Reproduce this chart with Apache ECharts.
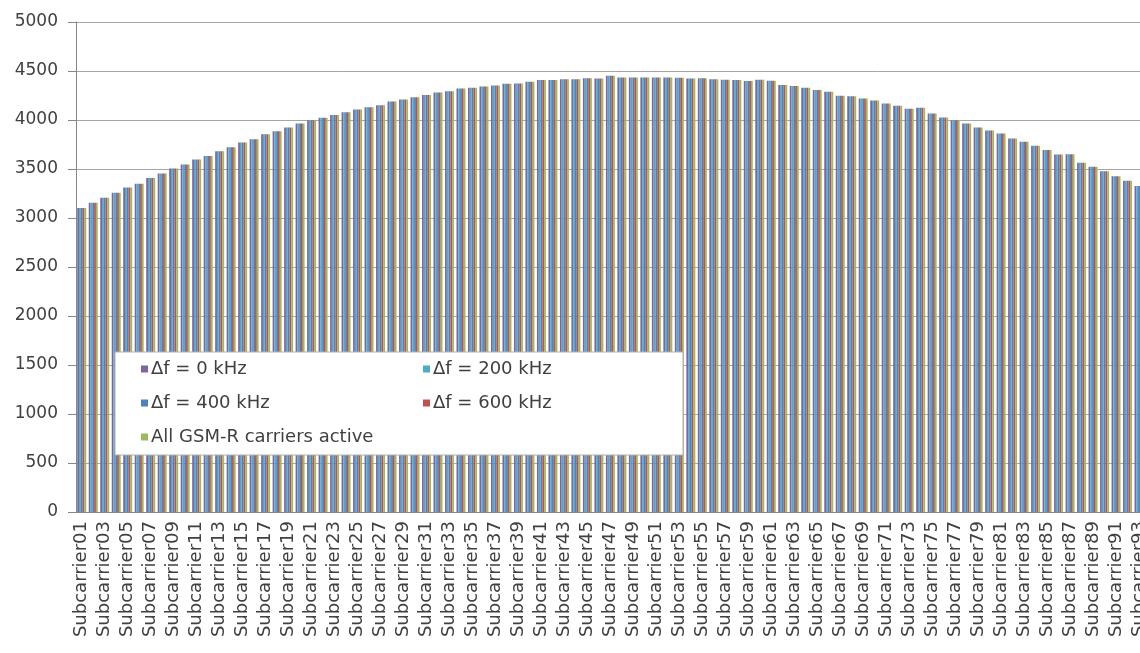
<!DOCTYPE html>
<html>
<head>
<meta charset="utf-8">
<script src="https://cdn.jsdelivr.net/npm/echarts@6/dist/echarts.min.js"></script>
<style>
html,body{margin:0;padding:0;background:#fff;overflow:hidden;width:1140px;height:653px;}
#chart{width:1148px;height:653px;}
</style>
</head>
<body>
<div id="chart"></div>
<script>
const categories = [
 'Subcarrier01','Subcarrier02','Subcarrier03','Subcarrier04','Subcarrier05','Subcarrier06','Subcarrier07','Subcarrier08','Subcarrier09','Subcarrier10',
 'Subcarrier11','Subcarrier12','Subcarrier13','Subcarrier14','Subcarrier15','Subcarrier16','Subcarrier17','Subcarrier18','Subcarrier19','Subcarrier20',
 'Subcarrier21','Subcarrier22','Subcarrier23','Subcarrier24','Subcarrier25','Subcarrier26','Subcarrier27','Subcarrier28','Subcarrier29','Subcarrier30',
 'Subcarrier31','Subcarrier32','Subcarrier33','Subcarrier34','Subcarrier35','Subcarrier36','Subcarrier37','Subcarrier38','Subcarrier39','Subcarrier40',
 'Subcarrier41','Subcarrier42','Subcarrier43','Subcarrier44','Subcarrier45','Subcarrier46','Subcarrier47','Subcarrier48','Subcarrier49','Subcarrier50',
 'Subcarrier51','Subcarrier52','Subcarrier53','Subcarrier54','Subcarrier55','Subcarrier56','Subcarrier57','Subcarrier58','Subcarrier59','Subcarrier60',
 'Subcarrier61','Subcarrier62','Subcarrier63','Subcarrier64','Subcarrier65','Subcarrier66','Subcarrier67','Subcarrier68','Subcarrier69','Subcarrier70',
 'Subcarrier71','Subcarrier72','Subcarrier73','Subcarrier74','Subcarrier75','Subcarrier76','Subcarrier77','Subcarrier78','Subcarrier79','Subcarrier80',
 'Subcarrier81','Subcarrier82','Subcarrier83','Subcarrier84','Subcarrier85','Subcarrier86','Subcarrier87','Subcarrier88','Subcarrier89','Subcarrier90',
 'Subcarrier91','Subcarrier92','Subcarrier93'
];

// Values (all five series are visually equal per subcarrier)
const df0kHz = [
 3101,3156,3207,3258,3310,3350,3408,3453,3504,3545,
 3596,3633,3681,3722,3770,3804,3855,3885,3923,3964,
 3998,4022,4052,4080,4107,4131,4151,4189,4209,4233,
 4255,4281,4294,4322,4328,4342,4352,4369,4373,4390,
 4407,4407,4417,4417,4427,4424,4451,4434,4434,4434,
 4434,4434,4431,4424,4427,4417,4410,4407,4397,4410,
 4400,4356,4346,4328,4305,4288,4247,4243,4219,4199,
 4168,4145,4114,4124,4066,4025,3998,3964,3923,3892,
 3861,3810,3777,3736,3695,3647,3650,3565,3524,3476,
 3425,3381,3327
];
const df200kHz = df0kHz.slice();
const df400kHz = df0kHz.slice();
const df600kHz = df0kHz.slice();
const allActive = df0kHz.slice();

const seriesNames = ['Δf = 0 kHz','Δf = 200 kHz','Δf = 400 kHz','Δf = 600 kHz','All GSM-R carriers active'];
const seriesData = [df0kHz, df200kHz, df400kHz, df600kHz, allActive];
const seriesColors = ['#8064A2','#4BACC6','#4F81BD','#C0504D','#9BBB59'];
const yTicks = {min: 0, max: 5000, interval: 500};

const chart = echarts.init(document.getElementById('chart'), null, {renderer: 'canvas'});
const font = "'DejaVu Sans', Verdana, sans-serif";

const legendCommon = {
  orient: 'vertical',
  icon: 'rect',
  itemWidth: 7,
  itemHeight: 7,
  itemGap: 14,
  padding: 0,
  selectedMode: false,
  textStyle: {fontFamily: font, fontSize: 18, color: '#404040', lineHeight: 20, padding: [0, 0, 0, -2]}
};

chart.setOption({
  animation: false,
  backgroundColor: '#ffffff',
  color: seriesColors,
  grid: {left: 76, right: 0, top: 22, bottom: 141, containLabel: false},
  graphic: [{
    type: 'rect', z: 3,
    shape: {x: 115, y: 352, width: 568, height: 103},
    style: {fill: '#ffffff', stroke: '#b0b0b0', lineWidth: 1}
  }],
  legend: [
    Object.assign({}, legendCommon, {left: 141, top: 359, data: [seriesNames[0], seriesNames[2], seriesNames[4]]}),
    Object.assign({}, legendCommon, {left: 423, top: 359, data: [seriesNames[1], seriesNames[3]]})
  ],
  xAxis: {
    type: 'category',
    data: categories,
    axisLine: {show: true, lineStyle: {color: '#868686'}},
    axisTick: {show: false},
    axisLabel: {interval: 1, rotate: 90, fontFamily: font, fontSize: 18, color: '#404040', margin: 9}
  },
  yAxis: {
    type: 'value',
    min: yTicks.min, max: yTicks.max, interval: yTicks.interval,
    axisLine: {show: true, lineStyle: {color: '#868686'}},
    axisTick: {show: true, length: 8, lineStyle: {color: '#868686'}},
    axisLabel: {fontFamily: font, fontSize: 17, color: '#404040', margin: 18, formatter: v => String(v)},
    splitLine: {show: true, lineStyle: {color: '#a6a6a6'}}
  },
  series: seriesNames.map((name, i) => ({
    name: name,
    type: 'bar',
    data: seriesData[i],
    barGap: '0%',
    barCategoryGap: '22%',
    z: 2
  }))
});
</script>
</body>
</html>
